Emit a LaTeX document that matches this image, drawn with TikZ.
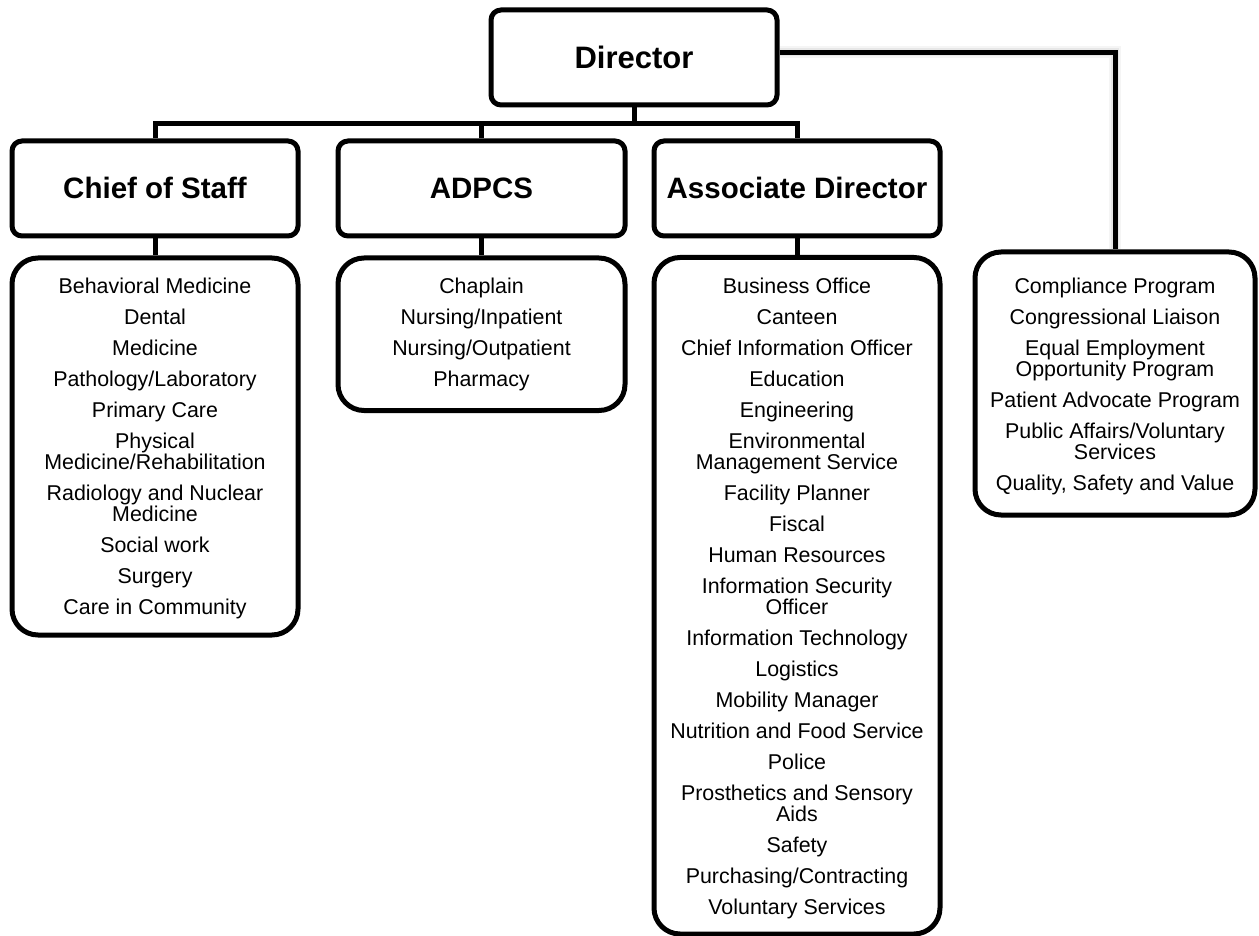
\documentclass[tikz,border=0pt]{standalone}
\usepackage{fontspec}
\setmainfont{Liberation Sans}
\usetikzlibrary{calc}
\tikzset{
  hdr/.style={draw=black, line width=5pt, rounded corners=10pt, minimum width=286pt,
    minimum height=95pt, inner sep=0pt, text height=24pt, text depth=3pt,
    font=\fontsize{29.5}{32}\selectfont\bfseries},
  grp/.style={draw=black, line width=5pt, rounded corners=26pt, inner sep=0pt, minimum width=286pt},
  lst/.style={align=center, inner sep=0pt, anchor=north, font=\fontsize{21.4}{21}\selectfont},
  conn/.style={line width=5pt},
  shade1/.style={line width=12pt, black, opacity=0.04},
  shade2/.style={line width=8pt, black, opacity=0.06},
}
\begin{document}
\begin{tikzpicture}[x=1pt,y=-1pt]
\useasboundingbox (0,0) rectangle (1259,936);
% header boxes
\node[hdr, text height=25pt, text depth=3pt, font=\fontsize{31}{34}\selectfont\bfseries] (dir) at (634,57.5) {Director};
\node[hdr] (cos) at (155,188.5) {Chief of Staff};
\node[hdr, minimum width=287pt] (adp) at (481.5,188.5) {ADPCS};
\node[hdr] (ad) at (797,188.5) {Associate Director};
% group boxes
\node[grp, minimum height=377pt] (cosL) at (155,446.5) {};
\node[grp, minimum width=287pt, minimum height=152.5pt] (adpL) at (481.5,334.25) {};
\node[grp, minimum height=676.5pt] (adL) at (797,595.75) {};
\node[grp, minimum width=280pt, minimum height=263pt] (rb) at (1115,383.5) {};
% texts
\node[lst] (cosT) at (155,278) {Behavioral Medicine\\[10pt]Dental\\[10pt]Medicine\\[10pt]Pathology/Laboratory\\[10pt]Primary Care\\[10pt]Physical\\Medicine/Rehabilitation\\[10pt]Radiology and Nuclear\\Medicine\\[10pt]Social work\\[10pt]Surgery\\[10pt]Care in Community};
\node[lst] (adpT) at (481.5,278) {Chaplain\\[10pt]Nursing/Inpatient\\[10pt]Nursing/Outpatient\\[10pt]Pharmacy};
\node[lst] (adT) at (797,278) {Business Office\\[10pt]Canteen\\[10pt]Chief Information Officer\\[10pt]Education\\[10pt]Engineering\\[10pt]Environmental\\Management Service\\[10pt]Facility Planner\\[10pt]Fiscal\\[10pt]Human Resources\\[10pt]Information Security\\Officer\\[10pt]Information Technology\\[10pt]Logistics\\[10pt]Mobility Manager\\[10pt]Nutrition and Food Service\\[10pt]Police\\[10pt]Prosthetics and Sensory\\Aids\\[10pt]Safety\\[10pt]Purchasing/Contracting\\[10pt]Voluntary Services};
\node[lst] (rbT) at (1115,278) {Compliance Program\\[10pt]Congressional Liaison\\[10pt]Equal Employment\\Opportunity Program\\[10pt]Patient Advocate Program\\[10pt]Public Affairs/Voluntary\\Services\\[10pt]Quality, Safety and Value};
% connectors
\coordinate (bj) at (634,124);
\draw[conn] (dir.south) -- (bj);
\draw[conn] (cos.north) |- (bj) -| (ad.north);
\draw[conn] (adp.north) -- (adp.north |- bj);
\draw[conn] (cos.south) -- (cosL.north);
\draw[conn] (adp.south) -- (adpL.north);
\draw[conn] (ad.south) -- (adL.north);
\draw[shade1, shift={(3,5)}] ([yshift=5pt]dir.east) -| (rb.north);
\draw[shade2, shift={(2,3)}] ([yshift=5pt]dir.east) -| (rb.north);
\draw[conn] ([yshift=5pt]dir.east) -| (rb.north);
\end{tikzpicture}
\end{document}
